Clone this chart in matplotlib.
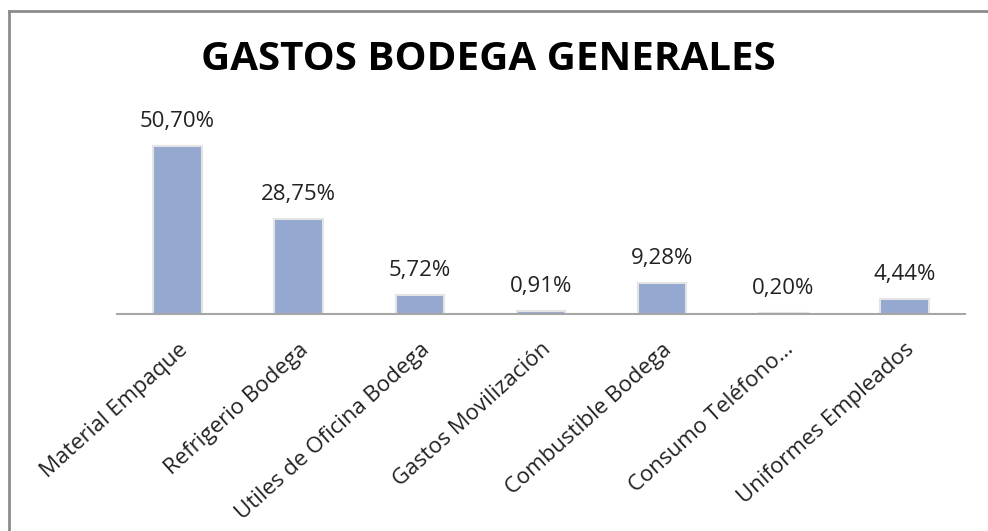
import matplotlib
matplotlib.use('Agg')
import matplotlib.pyplot as plt

categorias = ["Material Empaque", "Refrigerio Bodega", "Utiles de Oficina Bodega",
              "Gastos Movilización", "Combustible Bodega", "Consumo Teléfono…",
              "Uniformes Empleados"]
porcentajes = [50.70, 28.75, 5.72, 0.91, 9.28, 0.20, 4.44]
etiquetas = ["50,70%", "28,75%", "5,72%", "0,91%", "9,28%", "0,20%", "4,44%"]

plt.rcParams['font.family'] = ['Open Sans', 'DejaVu Sans']

fig = plt.figure(figsize=(9.88, 5.31), dpi=100)
W, H = 988, 531

# chart frame (only left and top edges are visible in the crop)
fig.add_artist(plt.Line2D([9 / W, 9 / W], [0, 1 - 11 / H], color='#8c8c8c', lw=2))
fig.add_artist(plt.Line2D([9 / W, 1], [1 - 11 / H, 1 - 11 / H], color='#8c8c8c', lw=2))

ax = fig.add_axes([117 / W, 1 - 314 / H, 848 / W, 214 / H])
x = range(len(categorias))
ax.bar(x, porcentajes, width=0.4, color='#94a8d0', edgecolor='#e4e4e4', linewidth=1.5)
ax.set_xlim(-0.5, len(categorias) - 0.5)
ax.set_ylim(0, 214 / 3.31)

for i, (v, t) in enumerate(zip(porcentajes, etiquetas)):
    ax.annotate(t, (i, v), xytext=(0, 10), textcoords='offset points',
                ha='center', va='bottom', fontsize=16, color='#222222')

ax.set_xticks(list(x))
ax.set_xticklabels(categorias, rotation=42, ha='right', rotation_mode='anchor',
                   fontsize=16, color='#222222')
ax.tick_params(axis='x', length=0, pad=18)
ax.set_yticks([])
for s in ['top', 'right', 'left']:
    ax.spines[s].set_visible(False)
ax.spines['bottom'].set_color('#a6a6a6')
ax.spines['bottom'].set_linewidth(1.5)

fig.text(488 / W, 1 - 60 / H, "GASTOS BODEGA GENERALES", ha='center', va='center',
         fontsize=29, fontweight='bold', color='black')

fig.savefig("out.png", dpi=100)
